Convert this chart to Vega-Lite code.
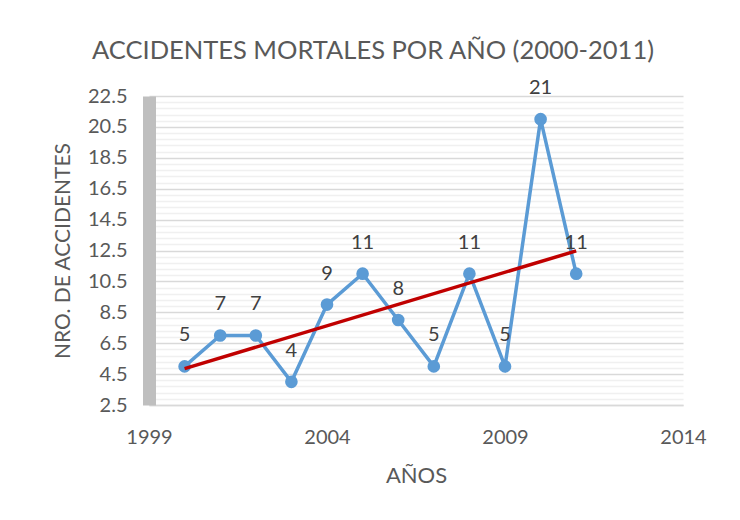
{
  "$schema": "https://vega.github.io/schema/vega-lite/v6.json",
  "width": 534,
  "height": 309,
  "autosize": {"type": "none"},
  "padding": {"left": 149, "top": 96, "right": 57, "bottom": 115},
  "background": "white",
  "config": {
    "view": {"stroke": null},
    "font": "Lato",
    "text": {"font": "Lato"}
  },
  "title": {
    "text": "ACCIDENTES MORTALES POR AÑO (2000-2011)",
    "font": "Lato",
    "fontSize": 25.5,
    "fontWeight": "normal",
    "color": "#595959",
    "anchor": "middle",
    "frame": "group",
    "dx": -43,
    "baseline": "alphabetic",
    "offset": -6
  },
  "data": {
    "values": [
      {"year": 2000, "value": 5},
      {"year": 2001, "value": 7},
      {"year": 2002, "value": 7},
      {"year": 2003, "value": 4},
      {"year": 2004, "value": 9},
      {"year": 2005, "value": 11},
      {"year": 2006, "value": 8},
      {"year": 2007, "value": 5},
      {"year": 2008, "value": 11},
      {"year": 2009, "value": 5},
      {"year": 2010, "value": 21},
      {"year": 2011, "value": 11}
    ]
  },
  "encoding": {
    "x": {
      "field": "year",
      "type": "quantitative",
      "scale": {"domain": [1999, 2014], "nice": false, "zero": false},
      "axis": {
        "title": "AÑOS",
        "values": [1999, 2004, 2009, 2014],
        "format": "d",
        "grid": false,
        "ticks": false,
        "tickSize": 0,
        "labelFlush": false,
        "labelBound": false,
        "domainColor": "#d9d9d9",
        "domainWidth": 1.5,
        "labelFont": "Lato",
        "labelFontSize": 20,
        "labelColor": "#595959",
        "labelPadding": 22,
        "titleFont": "Lato",
        "titleFontSize": 22,
        "titleFontWeight": "normal",
        "titleColor": "#595959",
        "titlePadding": 18
      }
    },
    "y": {
      "field": "value",
      "type": "quantitative",
      "scale": {"domain": [2.5, 22.5], "nice": false, "zero": false},
      "axis": {
        "title": "NRO. DE ACCIDENTES",
        "values": [2.5,2.9,3.3,3.7,4.1,4.5,4.9,5.3,5.7,6.1,6.5,6.9,7.3,7.7,8.1,8.5,8.9,9.3,9.7,10.1,10.5,10.9,11.3,11.7,12.1,12.5,12.9,13.3,13.7,14.1,14.5,14.9,15.3,15.7,16.1,16.5,16.9,17.3,17.7,18.1,18.5,18.9,19.3,19.7,20.1,20.5,20.9,21.3,21.7,22.1,22.5],
        "labelExpr": "abs((datum.value - 2.5) / 2 - round((datum.value - 2.5) / 2)) < 0.01 ? format(datum.value, '.1f') : ''",
        "grid": true,
        "gridColor": {
          "condition": {"test": "abs((datum.value - 2.5) / 2 - round((datum.value - 2.5) / 2)) < 0.01", "value": "#d9d9d9"},
          "value": "#f0f0f0"
        },
        "gridWidth": 1.5,
        "ticks": false,
        "tickSize": 0,
        "labelFlush": false,
        "labelBound": false,
        "domainColor": "#bfbfbf",
        "domainWidth": 13,
        "labelFont": "Lato",
        "labelFontSize": 20,
        "labelColor": "#595959",
        "labelPadding": 22,
        "labelOverlap": false,
        "titleFont": "Lato",
        "titleFontSize": 21,
        "titleFontWeight": "normal",
        "titleColor": "#595959",
        "titlePadding": 14
      }
    }
  },
  "layer": [
    {
      "mark": {
        "type": "line",
        "color": "#5b9bd5",
        "strokeWidth": 3.5,
        "point": {"filled": true, "size": 160, "color": "#5b9bd5", "opacity": 1}
      }
    },
    {
      "transform": [{"regression": "value", "on": "year"}],
      "mark": {"type": "line", "color": "#c00000", "strokeWidth": 3.5}
    },
    {
      "mark": {"type": "text", "dy": -31, "font": "Lato", "fontSize": 20, "color": "#404040", "baseline": "middle"},
      "encoding": {"text": {"field": "value", "type": "quantitative"}}
    }
  ]
}
